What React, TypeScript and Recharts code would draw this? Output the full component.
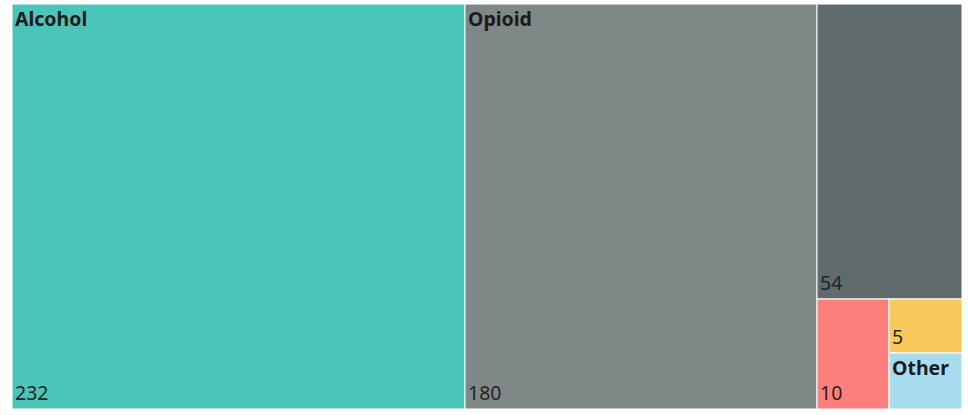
import React from "react";
import { Treemap } from "recharts";

const categories = ["Alcohol", "Opioid", "", "", "", "Other"];
const values = [232, 180, 54, 10, 5, 5];
const showValue = [true, true, true, true, true, false];

const COLORS = ["#4BC4B9", "#7F8787", "#5F6B6D", "#FD7F7C", "#F5C95A", "#A8DDF0"];

const data = categories.map((name, i) => ({ name, size: values[i], idx: i }));

const Tile = (props: any) => {
  const { x, y, width, height, depth, name, idx } = props;
  if (depth !== 1) return null;
  const i = idx as number;
  return (
    <g>
      <rect x={x} y={y} width={width} height={height} fill={COLORS[i]} stroke="#ffffff" strokeWidth={1} />
      {name ? (
        <text x={x + 3} y={y + 22} fontSize={19.5} fontWeight={700} fill="#1b1b1b" fontFamily="'Noto Sans', sans-serif">
          {name}
        </text>
      ) : null}
      {showValue[i] ? (
        <text x={x + 3} y={y + height - 9} fontSize={19.5} fill="#252423" fontFamily="'Noto Sans', sans-serif">
          {values[i]}
        </text>
      ) : null}
    </g>
  );
};

export default function App() {
  return (
    <div style={{ position: "absolute", left: 12, top: 4 }}>
      <Treemap
        width={950}
        height={405}
        data={data}
        dataKey="size"
        nameKey="name"
        aspectRatio={1}
        type="flat"
        isAnimationActive={false}
        content={<Tile />}
      />
    </div>
  );
}
